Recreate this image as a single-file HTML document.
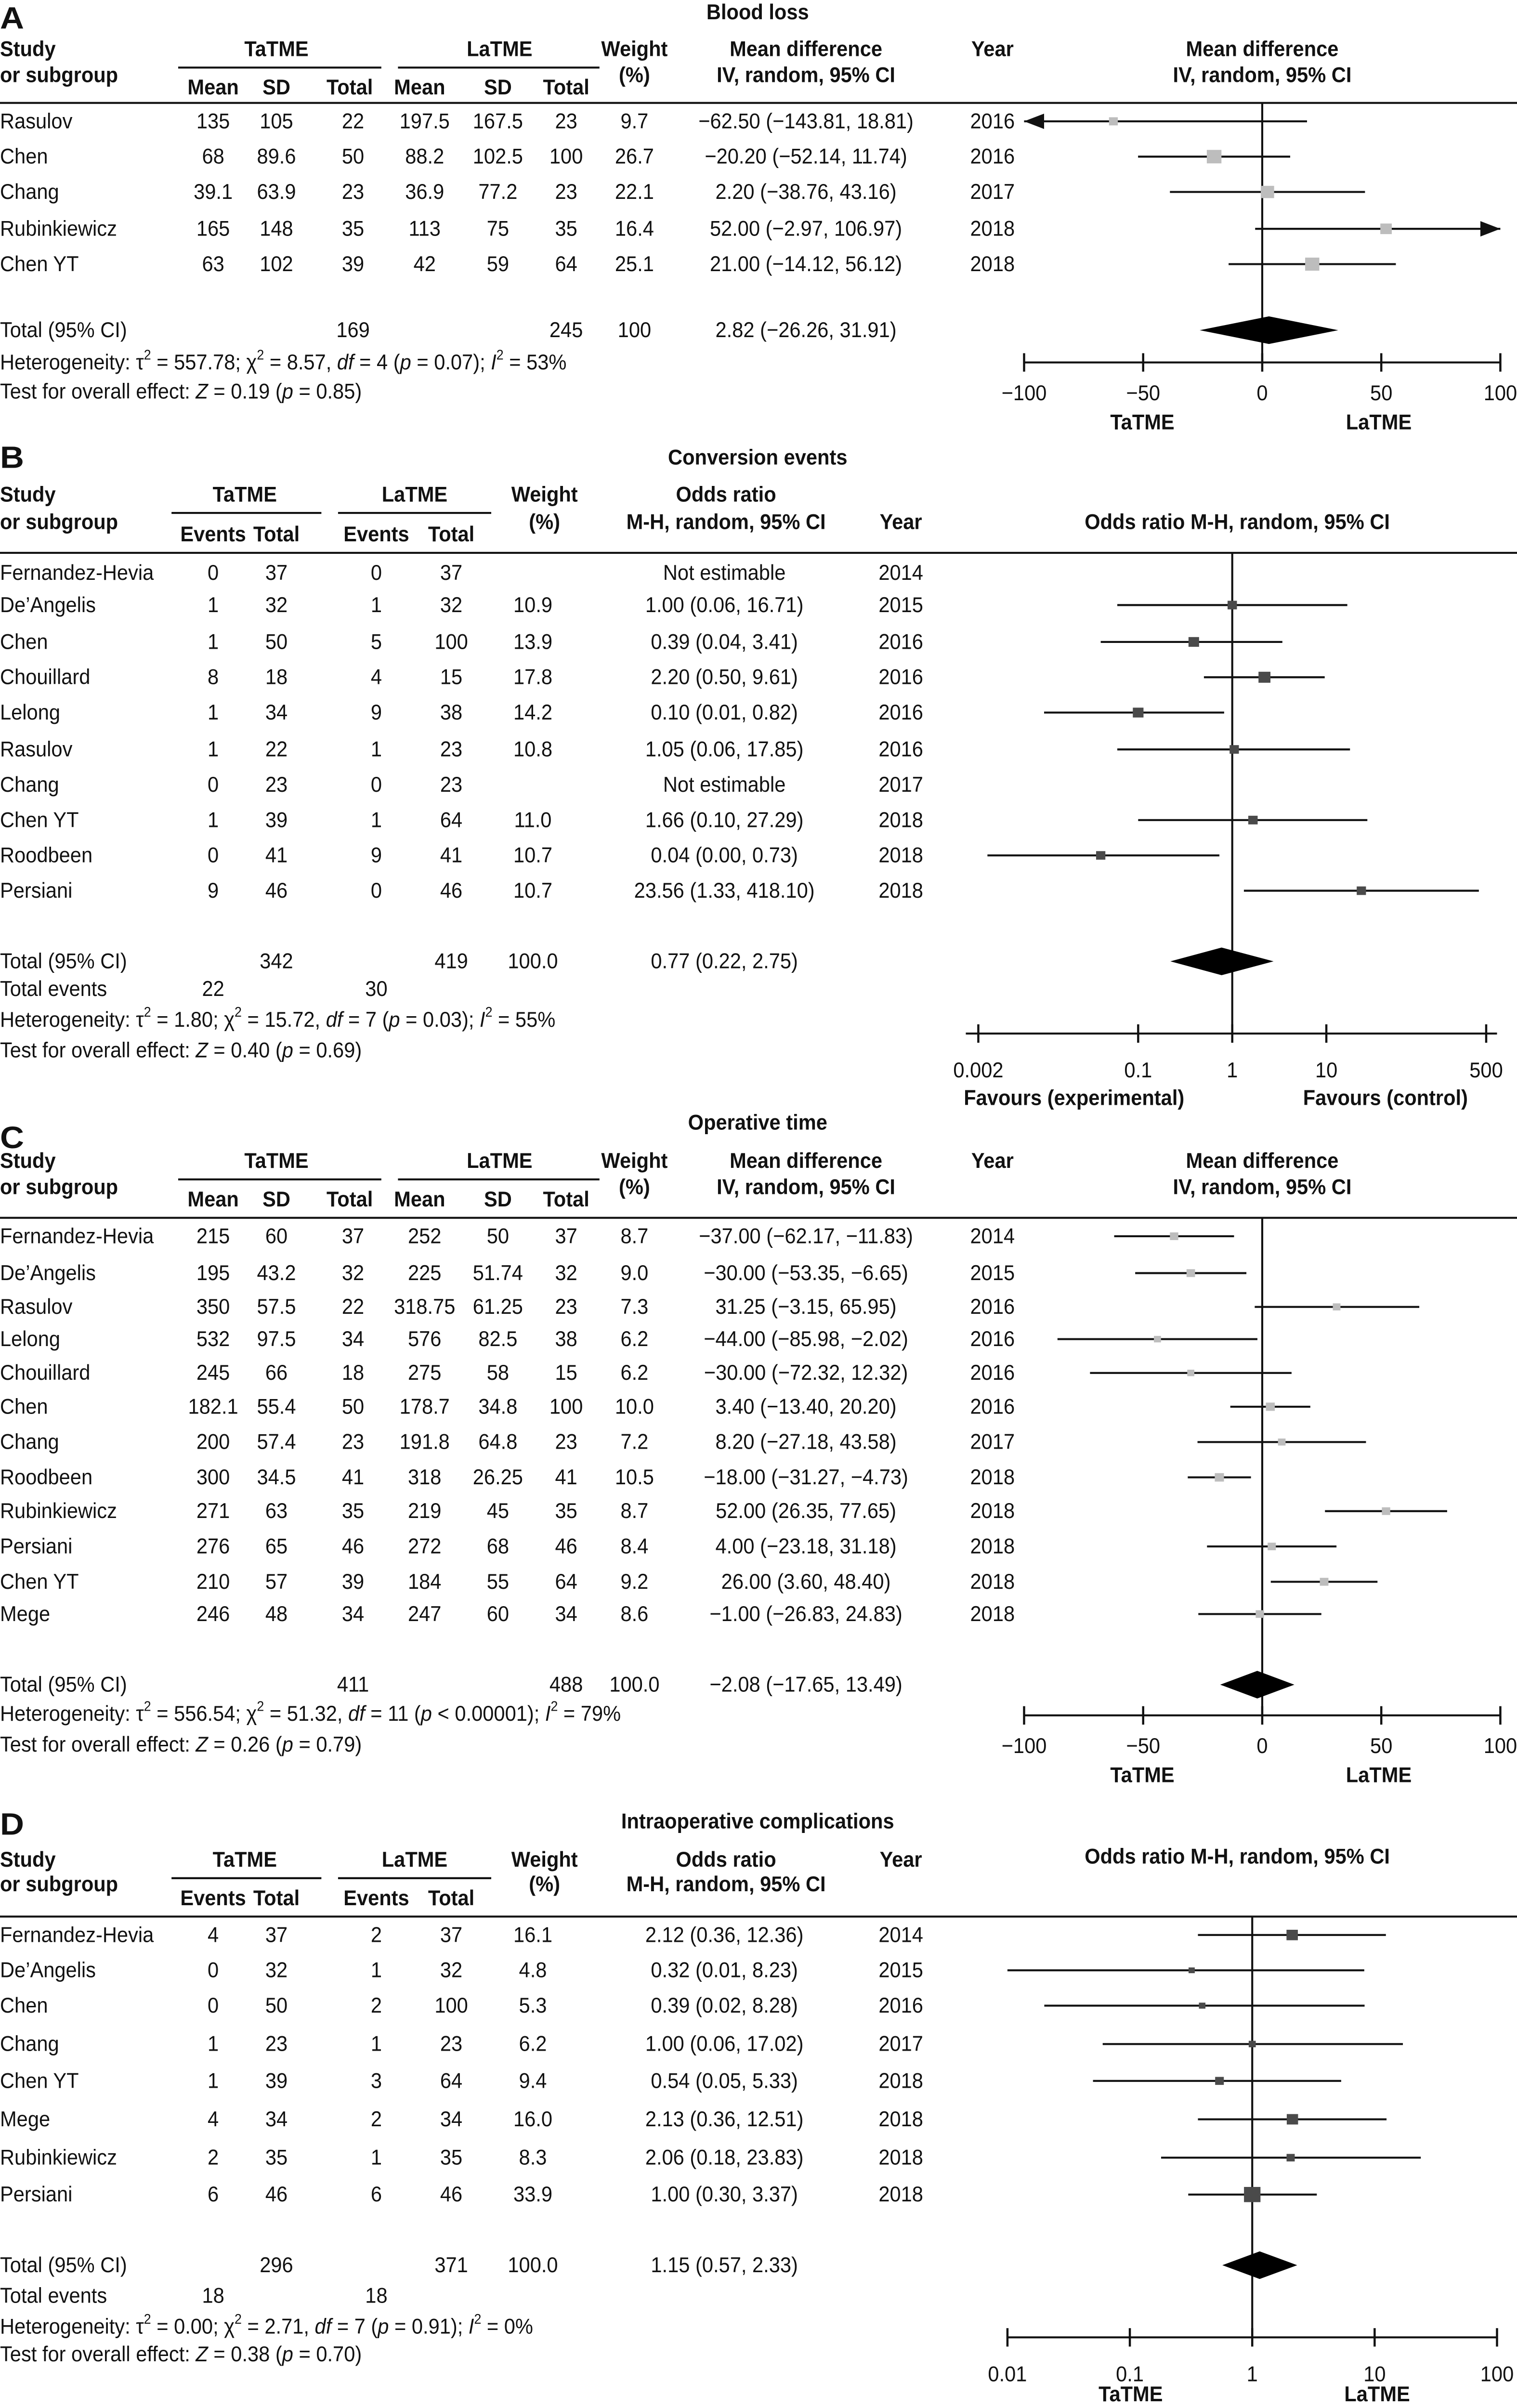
<!DOCTYPE html>
<html><head><meta charset="utf-8">
<style>
html,body{margin:0;padding:0;background:#fff;width:100%;height:100%;overflow:hidden;}
svg{display:block;overflow:hidden;width:100vw;height:100vh;}
text{font-family:"Liberation Sans",sans-serif;fill:#111;}
</style></head>
<body>
<svg id="chart" viewBox="0 0 911 1568" preserveAspectRatio="none" xmlns="http://www.w3.org/2000/svg"></svg>
<script>
// ---------- Panel A: Blood loss ----------
const aNames=["Rasulov","Chen","Chang","Rubinkiewicz","Chen YT"];
const aTMean=["135","68","39.1","165","63"];
const aTSD=["105","89.6","63.9","148","102"];
const aTN=["22","50","23","35","39"];
const aLMean=["197.5","88.2","36.9","113","42"];
const aLSD=["167.5","102.5","77.2","75","59"];
const aLN=["23","100","23","35","64"];
const aWeight=[9.7,26.7,22.1,16.4,25.1];
const aEst=[-62.5,-20.2,2.2,52,21];
const aLo=[-143.81,-52.14,-38.76,-2.97,-14.12];
const aHi=[18.81,11.74,43.16,106.97,56.12];
const aYear=[2016,2016,2017,2018,2018];
const aTotal={t:"169",l:"245",w:"100",est:2.82,lo:-26.26,hi:31.91};
const aTicks=[-100,-50,0,50,100];
// ---------- Panel B: Conversion events ----------
const bNames=["Fernandez-Hevia","De’Angelis","Chen","Chouillard","Lelong","Rasulov","Chang","Chen YT","Roodbeen","Persiani"];
const bTE=[0,1,1,8,1,1,0,1,0,9];
const bTN=[37,32,50,18,34,22,23,39,41,46];
const bLE=[0,1,5,4,9,1,0,1,9,0];
const bLN=[37,32,100,15,38,23,23,64,41,46];
const bWeight=[null,10.9,13.9,17.8,14.2,10.8,null,11.0,10.7,10.7];
const bEst=[null,1.00,0.39,2.20,0.10,1.05,null,1.66,0.04,23.56];
const bLo=[null,0.06,0.04,0.50,0.01,0.06,null,0.10,0.0025,1.33];
const bHi=[null,16.71,3.41,9.61,0.82,17.85,null,27.29,0.73,418.10];
const bYear=[2014,2015,2016,2016,2016,2016,2017,2018,2018,2018];
const bTotal={t:"342",l:"419",w:"100.0",est:0.77,lo:0.22,hi:2.75,te:"22",le:"30"};
const bTicks=[0.002,0.1,1,10,500];
const bTickLabels=["0.002","0.1","1","10","500"];
// ---------- Panel C: Operative time ----------
const cNames=["Fernandez-Hevia","De’Angelis","Rasulov","Lelong","Chouillard","Chen","Chang","Roodbeen","Rubinkiewicz","Persiani","Chen YT","Mege"];
const cTMean=["215","195","350","532","245","182.1","200","300","271","276","210","246"];
const cTSD=["60","43.2","57.5","97.5","66","55.4","57.4","34.5","63","65","57","48"];
const cTN=["37","32","22","34","18","50","23","41","35","46","39","34"];
const cLMean=["252","225","318.75","576","275","178.7","191.8","318","219","272","184","247"];
const cLSD=["50","51.74","61.25","82.5","58","34.8","64.8","26.25","45","68","55","60"];
const cLN=["37","32","23","38","15","100","23","41","35","46","64","34"];
const cWeight=[8.7,9.0,7.3,6.2,6.2,10.0,7.2,10.5,8.7,8.4,9.2,8.6];
const cEst=[-37,-30,31.25,-44,-30,3.4,8.2,-18,52,4,26,-1];
const cLo=[-62.17,-53.35,-3.15,-85.98,-72.32,-13.40,-27.18,-31.27,26.35,-23.18,3.60,-26.83];
const cHi=[-11.83,-6.65,65.95,-2.02,12.32,20.20,43.58,-4.73,77.65,31.18,48.40,24.83];
const cYear=[2014,2015,2016,2016,2016,2016,2017,2018,2018,2018,2018,2018];
const cTotal={t:"411",l:"488",w:"100.0",est:-2.08,lo:-17.65,hi:13.49};
const cTicks=[-100,-50,0,50,100];
// ---------- Panel D: Intraoperative complications ----------
const dNames=["Fernandez-Hevia","De’Angelis","Chen","Chang","Chen YT","Mege","Rubinkiewicz","Persiani"];
const dTE=[4,0,0,1,1,4,2,6];
const dTN=[37,32,50,23,39,34,35,46];
const dLE=[2,1,2,1,3,2,1,6];
const dLN=[37,32,100,23,64,34,35,46];
const dWeight=[16.1,4.8,5.3,6.2,9.4,16.0,8.3,33.9];
const dEst=[2.12,0.32,0.39,1.00,0.54,2.13,2.06,1.00];
const dLo=[0.36,0.01,0.02,0.06,0.05,0.36,0.18,0.30];
const dHi=[12.36,8.23,8.28,17.02,5.33,12.51,23.83,3.37];
const dYear=[2014,2015,2016,2017,2018,2018,2018,2018];
const dTotal={t:"296",l:"371",w:"100.0",est:1.15,lo:0.57,hi:2.33,te:"18",le:"18"};
const dTicks=[0.01,0.1,1,10,100];
const dTickLabels=["0.01","0.1","1","10","100"];

const svg=document.getElementById('chart');
const NS="http://www.w3.org/2000/svg";
function el(tag,attrs,name,parent){
  const e=document.createElementNS(NS,tag);
  for(const k in attrs)e.setAttribute(k,attrs[k]);
  
  
  (parent||svg).appendChild(e);return e;
}
function txt(x,y,s,name,o){
  o=o||{};
  const e=el('text',{x:0,y:0,'text-anchor':o.a||'middle','dominant-baseline':'central',
    'font-size':o.size||14,'font-weight':o.b?'bold':'normal',
    transform:`translate(${x},${y}) scale(${o.sx||0.86},1)`},name);
  if(o.html)e.innerHTML=s;else e.textContent=s;
  return e;
}
function line(x1,y1,x2,y2,name,w){return el('line',{x1,y1,x2,y2,stroke:'#111','stroke-width':w||1.3},name);}
const f2=v=>(v<0?'−':'')+Math.abs(v).toFixed(2);
const ciText=(e,l,h)=>`${f2(e)} (${f2(l)}, ${f2(h)})`;

function plotRows(sx,rows,est,lo,hi,wt,color,xmin,xmax,pname){
  rows.forEach((y,i)=>{
    if(est[i]==null)return;
    let x1=sx(lo[i]),x2=sx(hi[i]);
    const la=x1<xmin,ra=x2>xmax;
    x1=Math.max(x1,xmin);x2=Math.min(x2,xmax);
    line(x1,y,x2,y,pname+'-ci-line-'+i,1.3);
    if(la)el('polygon',{points:`${xmin},${y} ${xmin+12},${y-5} ${xmin+12},${y+5}`,fill:'#111'},pname+'-left-arrow-'+i);
    if(ra)el('polygon',{points:`${xmax},${y} ${xmax-12},${y-5} ${xmax-12},${y+5}`,fill:'#111'},pname+'-right-arrow-'+i);
    const s=1.7*Math.sqrt(wt[i]);
    el('rect',{x:sx(est[i])-s/2,y:y-s/2,width:s,height:s,fill:color},pname+'-square-'+i);
  });
}
function diamond(sx,t,y,h,pname){
  el('polygon',{points:`${sx(t.lo)},${y} ${sx(t.est)},${y-h} ${sx(t.hi)},${y} ${sx(t.est)},${y+h}`,fill:'#000'},pname+'-overall-diamond');
}
function axis(sx,ticks,labels,y,x0,x1,ly,pname){
  line(x0,y,x1,y,pname+'-x-axis',1.3);
  ticks.forEach((v,i)=>{line(sx(v),y-6,sx(v),y+6,pname+'-tick-'+i,1.3);
    txt(sx(v),ly,labels[i],pname+'-tick-label-'+i);});
}

function meanPanel(p){
  const n=p.pname;
  txt(0,p.letterY,p.letter,n+'-letter',{a:'start',b:true,size:20,sx:1});
  txt(455,p.titleY,p.title,n+'-title',{b:true});
  txt(0,p.h1,'Study',n+'-study-header',{a:'start',b:true});
  txt(0,p.h2,'or subgroup',n+'-subgroup-header',{a:'start',b:true});
  txt(166,p.h1,'TaTME',n+'-tatme-header',{b:true});
  line(107,p.h1+12,229,p.h1+12,n+'-tatme-underline',1.3);
  txt(300,p.h1,'LaTME',n+'-latme-header',{b:true});
  line(239,p.h1+12,360,p.h1+12,n+'-latme-underline',1.3);
  [['Mean',128],['SD',166],['Total',210],['Mean',252],['SD',299],['Total',340]].forEach((c,i)=>txt(c[1],p.h3,c[0],n+'-subheader-'+i,{b:true}));
  txt(381,p.h1,'Weight',n+'-weight-header',{b:true});txt(381,p.h2,'(%)',n+'-weight-unit',{b:true});
  txt(484,p.h1,'Mean difference',n+'-md-header',{b:true});txt(484,p.h2,'IV, random, 95% CI',n+'-md-method',{b:true});
  txt(596,p.h1,'Year',n+'-year-header',{b:true});
  txt(758,p.h1,'Mean difference',n+'-plot-header',{b:true});txt(758,p.h2,'IV, random, 95% CI',n+'-plot-method',{b:true});
  line(0,p.hline,911,p.hline,n+'-header-rule',1.3);
  const d=p.d;
  p.rows.forEach((y,i)=>{
    txt(0,y,d.names[i],n+'-study-'+i,{a:'start'});
    txt(128,y,d.tm[i],n+'-tmean-'+i);txt(166,y,d.tsd[i],n+'-tsd-'+i);txt(212,y,d.tn[i],n+'-tn-'+i);
    txt(255,y,d.lm[i],n+'-lmean-'+i);txt(299,y,d.lsd[i],n+'-lsd-'+i);txt(340,y,d.ln[i],n+'-ln-'+i);
    txt(381,y,d.wt[i].toFixed(1),n+'-weight-'+i);
    txt(484,y,ciText(d.est[i],d.lo[i],d.hi[i]),n+'-ci-'+i);
    txt(596,y,String(d.year[i]),n+'-year-'+i);
  });
  const T=d.total;
  txt(0,p.totY,'Total (95% CI)',n+'-total-label',{a:'start'});
  txt(212,p.totY,T.t,n+'-total-tatme');txt(340,p.totY,T.l,n+'-total-latme');
  txt(381,p.totY,T.w,n+'-total-weight');txt(484,p.totY,ciText(T.est,T.lo,T.hi),n+'-total-ci');
  txt(0,p.hetY,p.het,n+'-heterogeneity',{a:'start',html:true});
  txt(0,p.testY,p.test,n+'-overall-effect',{a:'start',html:true});
  const sx=v=>758+v*1.43;
  line(758,p.hline,758,p.axisY,n+'-null-line',1.2);
  plotRows(sx,p.rows,d.est,d.lo,d.hi,d.wt,'#bdbdbd',sx(-100),sx(100),n);
  diamond(sx,T,p.totY,9,n);
  axis(sx,d.ticks,d.ticks.map(v=>(v<0?'−':'')+Math.abs(v)),p.axisY,sx(-100),sx(100),p.axisY+20,n);
  txt(686,p.axisY+39,'TaTME',n+'-favours-tatme',{b:true});
  txt(828,p.axisY+39,'LaTME',n+'-favours-latme',{b:true});
}

function orPanel(p){
  const n=p.pname;
  txt(0,p.letterY,p.letter,n+'-letter',{a:'start',b:true,size:20,sx:1});
  txt(455,p.titleY,p.title,n+'-title',{b:true});
  txt(0,p.h1,'Study',n+'-study-header',{a:'start',b:true});
  txt(0,p.h2,'or subgroup',n+'-subgroup-header',{a:'start',b:true});
  txt(147,p.h1,'TaTME',n+'-tatme-header',{b:true});
  line(103,p.h1+12,193,p.h1+12,n+'-tatme-underline',1.3);
  txt(249,p.h1,'LaTME',n+'-latme-header',{b:true});
  line(203,p.h1+12,295,p.h1+12,n+'-latme-underline',1.3);
  [['Events',128],['Total',166],['Events',226],['Total',271]].forEach((c,i)=>txt(c[1],p.h3,c[0],n+'-subheader-'+i,{b:true}));
  txt(327,p.h1,'Weight',n+'-weight-header',{b:true});txt(327,p.h2,'(%)',n+'-weight-unit',{b:true});
  txt(436,p.h1,'Odds ratio',n+'-or-header',{b:true});txt(436,p.h2,'M-H, random, 95% CI',n+'-or-method',{b:true});
  txt(541,p.yearY,'Year',n+'-year-header',{b:true});
  txt(743,p.rtY,'Odds ratio M-H, random, 95% CI',n+'-plot-header',{b:true});
  line(0,p.hline,911,p.hline,n+'-header-rule',1.3);
  const d=p.d;
  p.rows.forEach((y,i)=>{
    txt(0,y,d.names[i],n+'-study-'+i,{a:'start'});
    txt(128,y,String(d.te[i]),n+'-tevents-'+i);txt(166,y,String(d.tn[i]),n+'-tn-'+i);
    txt(226,y,String(d.le[i]),n+'-levents-'+i);txt(271,y,String(d.ln[i]),n+'-ln-'+i);
    if(d.wt[i]!=null)txt(320,y,d.wt[i].toFixed(1),n+'-weight-'+i);
    txt(435,y,d.est[i]==null?'Not estimable':ciText(d.est[i],d.lo[i],d.hi[i]),n+'-ci-'+i);
    txt(541,y,String(d.year[i]),n+'-year-'+i);
  });
  const T=d.total;
  txt(0,p.totY,'Total (95% CI)',n+'-total-label',{a:'start'});
  txt(166,p.totY,T.t,n+'-total-tatme');txt(271,p.totY,T.l,n+'-total-latme');
  txt(320,p.totY,T.w,n+'-total-weight');txt(435,p.totY,ciText(T.est,T.lo,T.hi),n+'-total-ci');
  txt(0,p.evY,'Total events',n+'-total-events-label',{a:'start'});
  txt(128,p.evY,T.te,n+'-total-events-tatme');txt(226,p.evY,T.le,n+'-total-events-latme');
  txt(0,p.hetY,p.het,n+'-heterogeneity',{a:'start',html:true});
  txt(0,p.testY,p.test,n+'-overall-effect',{a:'start',html:true});
  const sx=v=>p.c+p.dec*Math.log10(v);
  line(p.c,p.hline,p.c,p.axisY,n+'-null-line',1.2);
  plotRows(sx,p.rows,d.est,d.lo,d.hi,d.wt,'#4a4a4a',p.ax0,p.ax1,n);
  diamond(sx,T,p.totY,p.dh,n);
  axis(sx,d.ticks,d.tickLabels,p.axisY,p.ax0,p.ax1,p.axisY+24,n);
  txt(p.f1x,p.axisY+p.fy,p.f1,n+'-favours-left',{b:true});
  txt(p.f2x,p.axisY+p.fy,p.f2,n+'-favours-right',{b:true});
}

const sup=s=>`<tspan baseline-shift="super" font-size="9">${s}</tspan>`;
const it=s=>`<tspan font-style="italic">${s}</tspan>`;
const het=(t,c,df,pv,i2)=>`Heterogeneity: τ${sup(2)} = ${t}; χ${sup(2)} = ${c}, ${it('df')} = ${df} (${it('p')} ${pv}); ${it('I')}${sup(2)} = ${i2}`;
const test=(z,pv)=>`Test for overall effect: ${it('Z')} = ${z} (${it('p')} = ${pv})`;

meanPanel({pname:'panel-a',letter:'A',letterY:12,title:'Blood loss',titleY:8,h1:32,h2:49,h3:57,hline:67,
  rows:[79,102,125,149,172],totY:215,hetY:236,testY:255,axisY:236,
  het:het('557.78','8.57','4','= 0.07','53%'),test:test('0.19','0.85'),
  d:{names:aNames,tm:aTMean,tsd:aTSD,tn:aTN,lm:aLMean,lsd:aLSD,ln:aLN,wt:aWeight,est:aEst,lo:aLo,hi:aHi,year:aYear,total:aTotal,ticks:aTicks}});

orPanel({pname:'panel-b',letter:'B',letterY:298,title:'Conversion events',titleY:298,h1:322,h2:340,h3:348,yearY:340,rtY:340,hline:360,
  rows:[373,394,418,441,464,488,511,534,557,580],totY:626,evY:644,hetY:664,testY:684,axisY:673,
  c:740,dec:56.5,ax0:580,ax1:899,dh:9,f1:'Favours (experimental)',f1x:645,f2:'Favours (control)',f2x:832,fy:42,
  het:het('1.80','15.72','7','= 0.03','55%'),test:test('0.40','0.69'),
  d:{names:bNames,te:bTE,tn:bTN,le:bLE,ln:bLN,wt:bWeight,est:bEst,lo:bLo,hi:bHi,year:bYear,total:bTotal,ticks:bTicks,tickLabels:bTickLabels}});

meanPanel({pname:'panel-c',letter:'C',letterY:741,title:'Operative time',titleY:731,h1:756,h2:773,h3:781,hline:793,
  rows:[805,829,851,872,894,916,939,962,984,1007,1030,1051],totY:1097,hetY:1116,testY:1136,axisY:1117,
  het:het('556.54','51.32','11','&lt; 0.00001','79%'),test:test('0.26','0.79'),
  d:{names:cNames,tm:cTMean,tsd:cTSD,tn:cTN,lm:cLMean,lsd:cLSD,ln:cLN,wt:cWeight,est:cEst,lo:cLo,hi:cHi,year:cYear,total:cTotal,ticks:cTicks}});

orPanel({pname:'panel-d',letter:'D',letterY:1188,title:'Intraoperative complications',titleY:1186,h1:1211,h2:1227,h3:1236,yearY:1211,rtY:1209,hline:1248,
  rows:[1260,1283,1306,1331,1355,1380,1405,1429],totY:1475,evY:1495,hetY:1515,testY:1533,axisY:1522,
  c:752,dec:73.5,ax0:605,ax1:899,dh:9,f1:'TaTME',f1x:679,f2:'LaTME',f2x:827,fy:37,
  het:het('0.00','2.71','7','= 0.91','0%'),test:test('0.38','0.70'),
  d:{names:dNames,te:dTE,tn:dTN,le:dLE,ln:dLN,wt:dWeight,est:dEst,lo:dLo,hi:dHi,year:dYear,total:dTotal,ticks:dTicks,tickLabels:dTickLabels}});
</script>
</body></html>
